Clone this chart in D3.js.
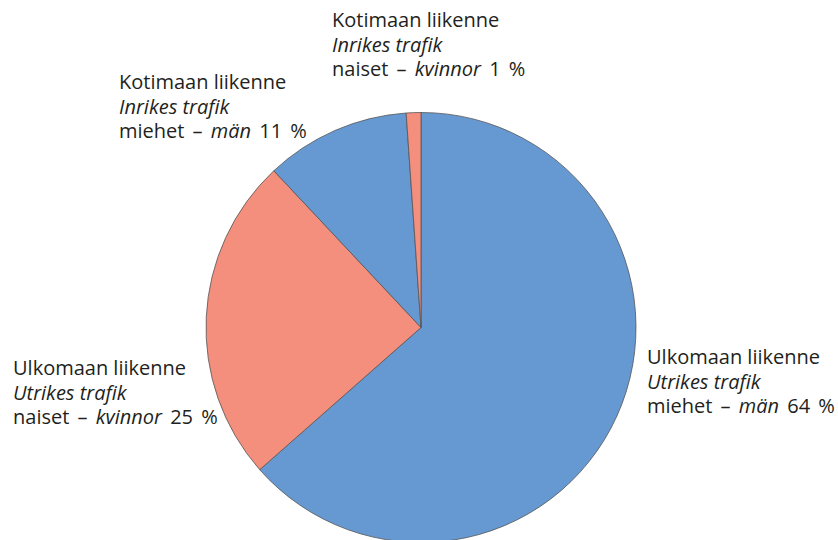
<!DOCTYPE html>
<html>
<head>
<meta charset="utf-8">
<script src="https://cdn.jsdelivr.net/npm/d3@7"></script>
<style>
  body { margin: 0; background: #fff; }
  text { font-family: "Open Sans", sans-serif; font-size: 20px; fill: #231f20; }
</style>
</head>
<body>
<div id="chart"></div>
<script>
var width = 838,
    height = 540;

// slices, clockwise from 12 o'clock
var keys = ["ulko_m", "ulko_n", "koti_m", "koti_n"];
var values = [63.5, 24.5, 10.9, 1.1];
var headFi = ["Ulkomaan liikenne", "Ulkomaan liikenne", "Kotimaan liikenne", "Kotimaan liikenne"];
var headSv = ["Utrikes trafik", "Utrikes trafik", "Inrikes trafik", "Inrikes trafik"];
var genderFi = ["miehet", "naiset", "miehet", "naiset"];
var genderSv = ["män", "kvinnor", "män", "kvinnor"];
var pctLabels = ["64 %", "25 %", "11 %", "1 %"];

// label placement (left x, first baseline)
var labelPos = [[647, 364], [13, 375], [119, 89], [332, 27]];

var cx = 421, cy = 327.5, radius = 215;

var svg = d3.select("#chart")
  .append("svg")
    .attr("width", width)
    .attr("height", height);

var g = svg.append("g")
    .attr("transform", "translate(" + cx + "," + cy + ")");

var color = d3.scaleOrdinal()
  .domain(keys)
  .range(["#6699d2", "#f48e7d", "#6699d2", "#f48e7d"]);

var pie = d3.pie()
  .value(function(d) { return d; })
  .sort(null);

var arcs = pie(values);

g.selectAll("path")
  .data(arcs)
  .enter()
  .append("path")
    .attr("d", d3.arc().innerRadius(0).outerRadius(radius))
    .attr("fill", function(d, i) { return color(keys[i]); })
    .attr("stroke", "#555")
    .style("stroke-width", "0.8px");

// labels: three lines, Finnish / Swedish mixed
var lbl = svg.selectAll("text.lbl")
  .data(keys)
  .enter()
  .append("text")
    .attr("class", "lbl")
    .attr("x", function(d, i) { return labelPos[i][0]; })
    .attr("y", function(d, i) { return labelPos[i][1]; });

lbl.append("tspan")
  .attr("x", function(d, i) { return labelPos[i][0]; })
  .text(function(d, i) { return headFi[i]; });

lbl.append("tspan")
  .attr("x", function(d, i) { return labelPos[i][0]; })
  .attr("dy", 24.5)
  .style("font-style", "italic")
  .text(function(d, i) { return headSv[i]; });

lbl.append("tspan")
  .attr("x", function(d, i) { return labelPos[i][0]; })
  .attr("dy", 24.5)
  .style("word-spacing", "3px")
  .text(function(d, i) { return genderFi[i] + " \u2013 "; });

lbl.append("tspan")
  .style("font-style", "italic")
  .text(function(d, i) { return genderSv[i]; });

lbl.append("tspan")
  .style("word-spacing", "3px")
  .text(function(d, i) { return " " + pctLabels[i]; });
</script>
</body>
</html>
